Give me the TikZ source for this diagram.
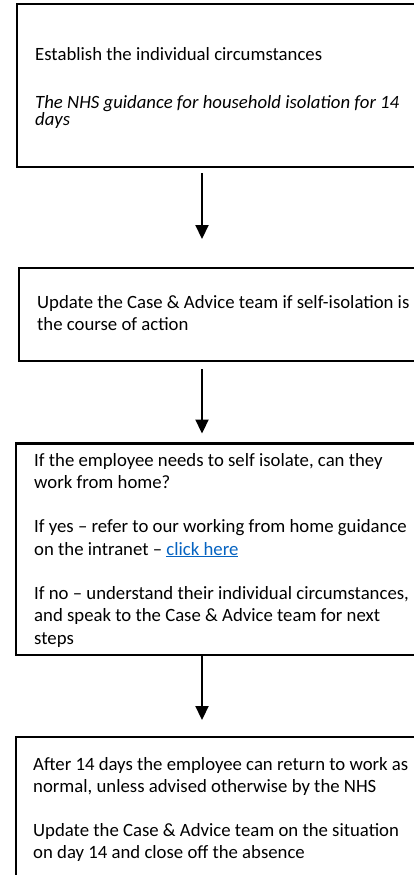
\documentclass[tikz,border=0pt]{standalone}
\usepackage{fontspec}
\setmainfont{Carlito}
\usetikzlibrary{arrows.meta,calc}
\definecolor{linkblue}{HTML}{0563C1}
\newlength\reflen
\begin{document}
\settowidth\reflen{\fontsize{10pt}{12pt}\selectfont Establish the individual circumstances}%
\pgfmathsetmacro\fsz{10*287/\reflen}%
\def\mainfs{\fontsize{\fsz pt}{22pt}\selectfont}%
\begin{tikzpicture}[x=1pt,y=-1pt,
  box/.style={draw, line width=2.2pt, anchor=north west, inner sep=0pt, outer sep=0pt, minimum width=410pt},
  arr/.style={line width=2.2pt, -{Triangle[width=13pt,length=14pt]}},
  txt/.style={anchor=base west, inner sep=0pt, font=\mainfs}]
\useasboundingbox (0,0) rectangle (414,875);
\clip (0,0) rectangle (414,875);
% boxes
\node[box, minimum height=162.7pt] (box1) at (17,4.3) {};
\node[box, minimum height=93.3pt] (box2) at (19.2,267.7) {};
\node[box, minimum height=211.5pt] (box3) at (16.3,443.5) {};
\node[box, minimum height=200pt] (box4) at (16.3,737) {};
% arrows
\coordinate (ax) at (202,0);
\coordinate (t1) at (202,239);
\coordinate (t2) at (202,433.5);
\coordinate (t3) at (202,720);
\draw[arr] ($(box1.south -| ax)+(0,6)$) -- (t1);
\draw[arr] ($(box2.south -| ax)+(0,8)$) -- (t2);
\draw[arr] (box3.south -| ax) -- (t3);
% texts
\node[txt] (l11) at (35,60) {Establish the individual circumstances};
\node[txt] (l12) at (35,108) {\itshape The NHS guidance for household isolation for 14};
\node[txt] (l13) at (35,125) {\itshape days};
\node[txt] (l21) at (37,308) {Update the Case \& Advice team if self-isolation is};
\node[txt] (l22) at (37,330) {the course of action};
\node[txt] (l31) at (34,466) {If the employee needs to self isolate, can they};
\node[txt] (l32) at (34,488.3) {work from home?};
\node[txt] (l33) at (34,532.7) {If yes – refer to our working from home guidance};
\node[txt] (l34) at (34,555) {on the intranet – \textcolor{linkblue}{\underline{click here}}};
\node[txt] (l35) at (34,599.5) {If no – understand their individual circumstances,};
\node[txt] (l36) at (34,621.8) {and speak to the Case \& Advice team for next};
\node[txt] (l37) at (34,644) {steps};
\node[txt] (l41) at (33,770) {After 14 days the employee can return to work as};
\node[txt] (l42) at (33,792) {normal, unless advised otherwise by the NHS};
\node[txt] (l43) at (33,836.5) {Update the Case \& Advice team on the situation};
\node[txt] (l44) at (33,858.5) {on day 14 and close off the absence};
\end{tikzpicture}
\end{document}
